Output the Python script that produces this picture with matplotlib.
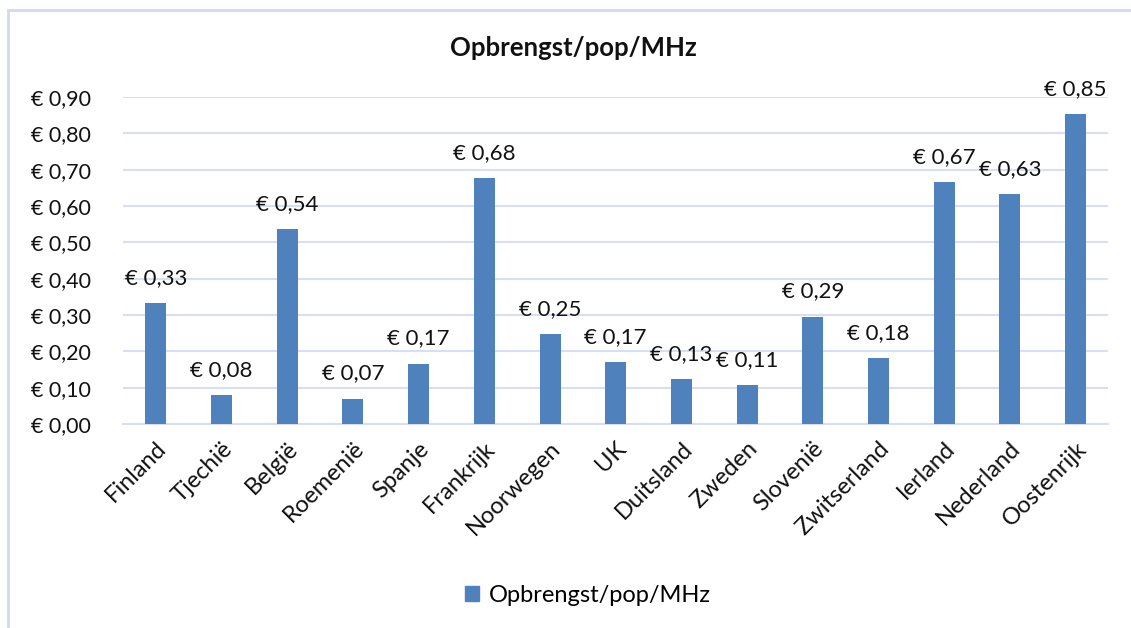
import matplotlib.pyplot as plt
import matplotlib.patches as mpatches
import numpy as np

landen = ["Finland", "Tjechië", "België", "Roemenië", "Spanje", "Frankrijk",
          "Noorwegen", "UK", "Duitsland", "Zweden", "Slovenië", "Zwitserland",
          "Ierland", "Nederland", "Oostenrijk"]
opbrengst = [0.333, 0.080, 0.537, 0.070, 0.166, 0.676, 0.247, 0.171,
             0.124, 0.107, 0.295, 0.181, 0.666, 0.632, 0.852]
labels = ["€ 0,33", "€ 0,08", "€ 0,54", "€ 0,07", "€ 0,17", "€ 0,68",
          "€ 0,25", "€ 0,17", "€ 0,13", "€ 0,11", "€ 0,29", "€ 0,18",
          "€ 0,67", "€ 0,63", "€ 0,85"]
yticks = [0.0, 0.1, 0.2, 0.3, 0.4, 0.5, 0.6, 0.7, 0.8, 0.9]

plt.rcParams['font.family'] = ['Lato', 'DejaVu Sans']

BLAUW = "#4F81BD"
GRID = "#D9DFF3"

fig = plt.figure(figsize=(11.31, 6.28), dpi=100)
ax = fig.add_axes([0.1088, 0.3248, 0.8712, 0.5207])

x = np.arange(len(landen))
ax.bar(x, opbrengst, width=0.32, color=BLAUW, zorder=3)

# waardelabels boven de staven
for xi, v, lab in zip(x, opbrengst, labels):
    ax.annotate(lab, (xi, v), xytext=(0, 11), textcoords="offset points",
                ha="center", va="bottom", fontsize=16, color="#111111")

ax.set_xlim(-0.5, len(landen) - 0.5)
ax.set_ylim(0, 0.9)
ax.set_yticks(yticks)
ax.set_yticklabels(["€ " + f"{t:.2f}".replace(".", ",") for t in yticks],
                   fontsize=15.5, color="#111111")
ax.set_xticks(x)
ax.set_xticklabels(landen, rotation=45, ha="right", rotation_mode="anchor",
                   fontsize=17, color="#111111")
ax.tick_params(axis="x", length=0, pad=10)
ax.tick_params(axis="y", length=0, pad=23)
ax.grid(axis="y", color=GRID, linewidth=1.5, zorder=0)
for s in ["top", "right", "left"]:
    ax.spines[s].set_visible(False)
ax.spines["bottom"].set_color(GRID)
ax.spines["bottom"].set_linewidth(1.5)

fig.text(0.507, 0.924, "Opbrengst/pop/MHz", ha="center", va="center",
         fontsize=18.5, fontweight="bold", color="#111111")

handle = mpatches.Patch(color=BLAUW, label="Opbrengst/pop/MHz")
fig.legend(handles=[handle], loc="center", bbox_to_anchor=(0.52, 0.052),
           frameon=False, fontsize=17, handlelength=0.6, handleheight=0.6,
           handletextpad=0.4)

rand = mpatches.Rectangle((8 / 1131, -0.01), 1.1, 1 - 10 / 628 + 0.01,
                          transform=fig.transFigure, fill=False,
                          edgecolor="#D0D9F2", linewidth=2)
fig.add_artist(rand)

fig.savefig("out.png", dpi=100)
